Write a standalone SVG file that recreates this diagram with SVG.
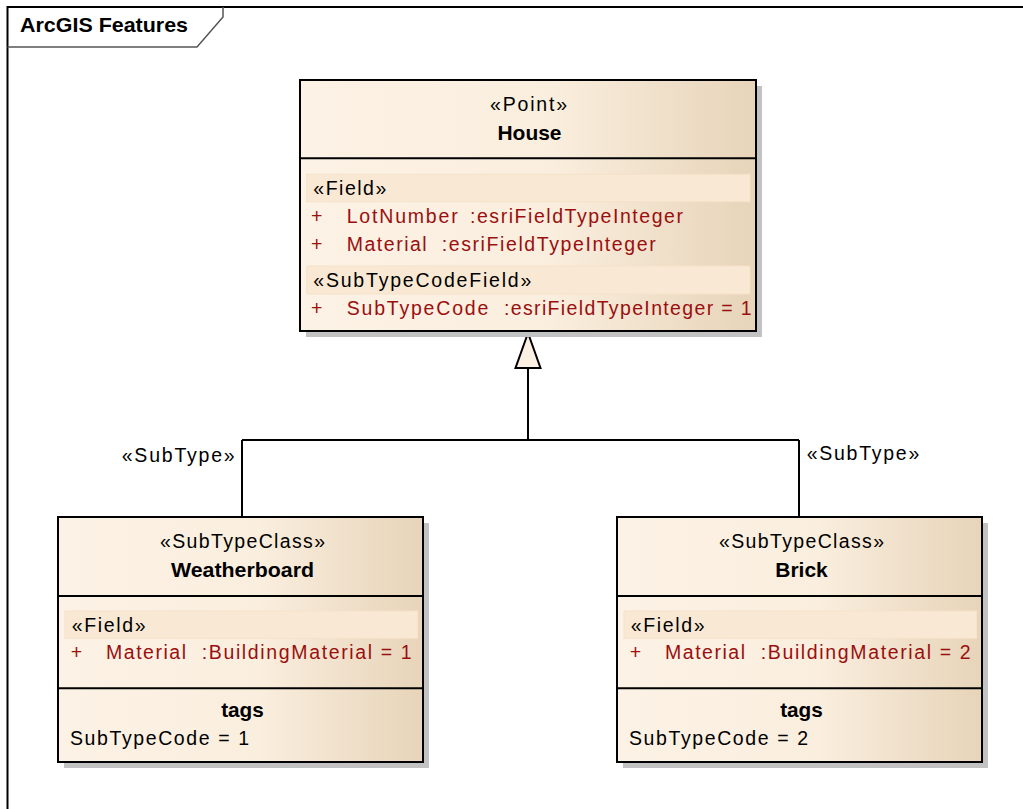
<svg xmlns="http://www.w3.org/2000/svg" width="1023" height="809" viewBox="0 0 1023 809">
<defs>
<linearGradient id="boxfill" x1="0" y1="0" x2="1" y2="0">
<stop offset="0" stop-color="#FCF2E5"/>
<stop offset="0.55" stop-color="#FAEEDE"/>
<stop offset="1" stop-color="#E7D4B9"/>
</linearGradient>
<style>
.box{fill:url(#boxfill);stroke:#000;stroke-width:2}
.shadow{fill:#C2C2C2}
.div{stroke:#000;stroke-width:2}
.band{fill:#F9E9D4;stroke:#F5E2C9;stroke-width:1}
.t{font-family:"Liberation Sans",Arial,sans-serif;font-size:19.5px;fill:#000}
.r{font-family:"Liberation Sans",Arial,sans-serif;font-size:19.5px;fill:#9A0F0F}
.b{font-family:"Liberation Sans",Arial,sans-serif;font-size:21px;font-weight:bold;fill:#000}
.c{text-anchor:middle}
.conn{fill:none;stroke:#000;stroke-width:2}
</style>
</defs>
<rect width="1023" height="809" fill="#fff"/>
<g id="frame">
<path d="M7.5,809 V7 H1023" fill="none" stroke="#000" stroke-width="2"/>
<path d="M7.5,47 H197 L223,17 V7" fill="none" stroke="#555" stroke-width="1.5"/>
<text class="b" x="20" y="32.3" textLength="168" lengthAdjust="spacingAndGlyphs">ArcGIS Features</text>
</g>
<g id="connectors">
<path class="conn" d="M528,368 V440 M242,440 H799 M242,440 V517 M799,440 V517"/>
<polygon points="528,333 515.5,368 540.5,368" fill="#FBF0E2" stroke="#000" stroke-width="2" stroke-linejoin="miter"/>
<text class="t" x="121.7" y="462" textLength="113" lengthAdjust="spacing">«SubType»</text>
<text class="t" x="806.7" y="460" textLength="112.6" lengthAdjust="spacing">«SubType»</text>
</g>
<g id="house">
<rect class="shadow" x="306" y="86" width="456" height="251"/>
<rect class="box" x="300" y="80" width="456" height="251"/>
<line class="div" x1="300" y1="158.3" x2="756" y2="158.3"/>
<text class="t c" x="528.5" y="111" textLength="77" lengthAdjust="spacing">«Point»</text>
<text class="b c" x="529.5" y="139.5" textLength="64" lengthAdjust="spacingAndGlyphs">House</text>
<rect class="band" x="306.7" y="174.3" width="443.3" height="27.4"/>
<text class="t" x="313.3" y="194.8" textLength="73" lengthAdjust="spacing">«Field»</text>
<text class="r" x="311" y="222.7">+</text>
<text class="r" x="346.7" y="222.7" textLength="111" lengthAdjust="spacing">LotNumber</text>
<text class="r" x="470" y="222.7" textLength="213" lengthAdjust="spacing">:esriFieldTypeInteger</text>
<text class="r" x="311" y="250.7">+</text>
<text class="r" x="346.7" y="250.7" textLength="80" lengthAdjust="spacing">Material</text>
<text class="r" x="441.7" y="250.7" textLength="214" lengthAdjust="spacing">:esriFieldTypeInteger</text>
<rect class="band" x="306.7" y="266" width="443.3" height="28"/>
<text class="t" x="313.3" y="287.3" textLength="218" lengthAdjust="spacing">«SubTypeCodeField»</text>
<text class="r" x="311" y="315">+</text>
<text class="r" x="346.7" y="315" textLength="141.6" lengthAdjust="spacing">SubTypeCode</text>
<text class="r" x="504" y="315" textLength="247.7" lengthAdjust="spacing">:esriFieldTypeInteger = 1</text>
</g>
<g id="weatherboard">
<rect class="shadow" x="64" y="523" width="365" height="245"/>
<rect class="box" x="58" y="517" width="365" height="245"/>
<line class="div" x1="58" y1="596" x2="423" y2="596"/>
<line class="div" x1="58" y1="688.3" x2="423" y2="688.3"/>
<text class="t c" x="242.5" y="548.3" textLength="165" lengthAdjust="spacing">«SubTypeClass»</text>
<text class="b c" x="242.5" y="576.7" textLength="143" lengthAdjust="spacingAndGlyphs">Weatherboard</text>
<rect class="band" x="65" y="611" width="352.7" height="27.3"/>
<text class="t" x="71.7" y="631.7" textLength="74" lengthAdjust="spacing">«Field»</text>
<text class="r" x="70.7" y="659.3">+</text>
<text class="r" x="106" y="659.3" textLength="80" lengthAdjust="spacing">Material</text>
<text class="r" x="201.7" y="659.3" textLength="210" lengthAdjust="spacing">:BuildingMaterial = 1</text>
<text class="b c" x="242.5" y="716.7" textLength="42.7" lengthAdjust="spacingAndGlyphs">tags</text>
<text class="t" x="70" y="745" textLength="179" lengthAdjust="spacing">SubTypeCode = 1</text>
</g>
<g id="brick">
<rect class="shadow" x="623" y="523" width="365" height="245"/>
<rect class="box" x="617" y="517" width="365" height="245"/>
<line class="div" x1="617" y1="596" x2="982" y2="596"/>
<line class="div" x1="617" y1="688.3" x2="982" y2="688.3"/>
<text class="t c" x="801.5" y="548.3" textLength="165" lengthAdjust="spacing">«SubTypeClass»</text>
<text class="b c" x="801.5" y="576.7">Brick</text>
<rect class="band" x="624" y="611" width="352.7" height="27.3"/>
<text class="t" x="630.7" y="631.7" textLength="74" lengthAdjust="spacing">«Field»</text>
<text class="r" x="629.7" y="659.3">+</text>
<text class="r" x="665" y="659.3" textLength="80" lengthAdjust="spacing">Material</text>
<text class="r" x="760.7" y="659.3" textLength="210" lengthAdjust="spacing">:BuildingMaterial = 2</text>
<text class="b c" x="801.5" y="716.7" textLength="42.7" lengthAdjust="spacingAndGlyphs">tags</text>
<text class="t" x="629" y="745" textLength="179" lengthAdjust="spacing">SubTypeCode = 2</text>
</g>
</svg>
